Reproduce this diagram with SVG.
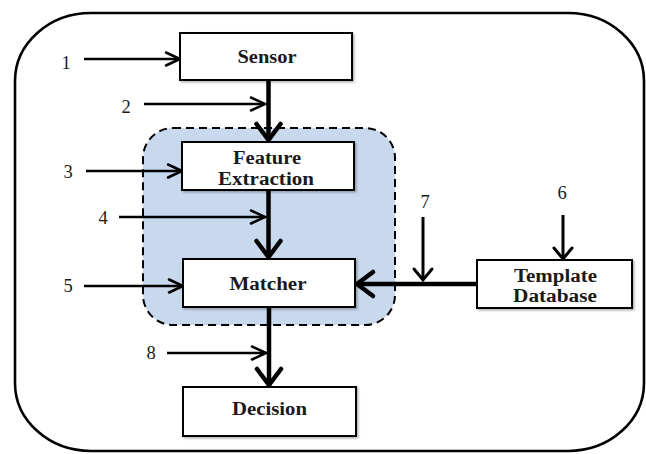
<svg xmlns="http://www.w3.org/2000/svg" width="646" height="454" viewBox="0 0 646 454">
  <style>
    .box { fill: #ffffff; stroke: #000000; stroke-width: 2; filter: url(#shadow); }
    .lbl { font-family: "Liberation Serif", "Times New Roman", serif; font-weight: bold; font-size: 18px; fill: #1a1a1a; text-anchor: middle; }
    .num { font-family: "Liberation Serif", "Times New Roman", serif; font-size: 18.5px; fill: #1a1a1a; text-anchor: middle; }
    .thin { stroke: #000000; stroke-width: 2.6; fill: none; marker-end: url(#headThin); }
    .thick { stroke: #000000; stroke-width: 4.5; fill: none; marker-end: url(#headThick); }
    .mid { stroke: #000000; stroke-width: 3; fill: none; marker-end: url(#headMid); }
  </style>
  <defs>
    <filter id="shadow" x="-10%" y="-10%" width="130%" height="140%">
      <feDropShadow dx="1.5" dy="1.5" stdDeviation="1.2" flood-color="#000000" flood-opacity="0.3"/>
    </filter>
    <marker id="headThin" markerUnits="userSpaceOnUse" markerWidth="30" markerHeight="30" orient="auto" refX="0" refY="0" viewBox="-20 -15 30 30" overflow="visible">
      <path d="M -14 -6.5 L 0 0 L -14 6.5" fill="none" stroke="#000" stroke-width="2.6" stroke-linejoin="miter" stroke-linecap="round"/>
    </marker>
    <marker id="headMid" markerUnits="userSpaceOnUse" markerWidth="30" markerHeight="30" orient="auto" refX="0" refY="0" viewBox="-20 -15 30 30" overflow="visible">
      <path d="M -11 -9 L 0 0 L -11 9" fill="none" stroke="#000" stroke-width="3" stroke-linejoin="miter" stroke-linecap="round"/>
    </marker>
    <marker id="headThick" markerUnits="userSpaceOnUse" markerWidth="40" markerHeight="40" orient="auto" refX="0" refY="0" viewBox="-25 -20 40 40" overflow="visible">
      <path d="M -17 -12 L -1 0 L -17 12" fill="none" stroke="#000" stroke-width="4.5" stroke-linejoin="miter" stroke-linecap="round"/>
    </marker>
  </defs>

  <rect width="646" height="454" fill="#ffffff"/>

  <!-- outer system boundary -->
  <rect id="system" x="15" y="13" width="629" height="438" rx="76" ry="68" fill="none" stroke="#000" stroke-width="2.6"/>

  <!-- dashed processing region -->
  <rect id="region" x="143" y="128" width="252" height="197" rx="30" ry="30" fill="#c8d9ee" stroke="#000" stroke-width="2" stroke-dasharray="8 5"/>

  <!-- connectors -->
  <g id="connectors">
    <line class="thick" x1="268.5" y1="80" x2="268.5" y2="141"/>
    <line class="thick" x1="268.5" y1="190" x2="268.5" y2="258"/>
    <line class="thick" x1="477" y1="284" x2="356" y2="284"/>
    <line class="thick" x1="269" y1="307" x2="269" y2="386"/>

    <line class="thin" x1="84" y1="59" x2="180" y2="59"/>
    <line class="thin" x1="144" y1="104" x2="265" y2="104"/>
    <line class="thin" x1="86" y1="171" x2="182" y2="171"/>
    <line class="thin" x1="119" y1="217" x2="265" y2="217"/>
    <line class="thin" x1="84" y1="286" x2="183" y2="286"/>
    <line class="thin" x1="167" y1="353" x2="266" y2="353"/>
    <line class="mid" x1="423" y1="217" x2="423" y2="280"/>
    <line class="mid" x1="563" y1="215" x2="563" y2="259"/>
  </g>

  <!-- input point labels -->
  <g id="labels">
    <text class="num" x="66" y="69">1</text>
    <text class="num" x="126" y="113">2</text>
    <text class="num" x="68" y="178">3</text>
    <text class="num" x="103" y="224">4</text>
    <text class="num" x="68" y="292">5</text>
    <text class="num" x="562" y="199">6</text>
    <text class="num" x="425" y="208">7</text>
    <text class="num" x="151" y="359">8</text>
  </g>

  <g id="sensor">
    <rect class="box" x="180" y="33" width="172" height="47"/>
    <text class="lbl" x="267" y="63" textLength="59" lengthAdjust="spacingAndGlyphs">Sensor</text>
  </g>

  <g id="feature-extraction">
    <rect class="box" x="182" y="142" width="172" height="48"/>
    <text class="lbl" x="267" y="164" textLength="68" lengthAdjust="spacingAndGlyphs">Feature</text>
    <text class="lbl" x="266" y="184.5" textLength="96" lengthAdjust="spacingAndGlyphs">Extraction</text>
  </g>

  <g id="matcher">
    <rect class="box" x="183" y="259" width="172" height="48"/>
    <text class="lbl" x="268" y="290" textLength="77" lengthAdjust="spacingAndGlyphs">Matcher</text>
  </g>

  <g id="template-database">
    <rect class="box" x="477" y="260" width="155" height="48"/>
    <text class="lbl" x="555.5" y="282" textLength="83" lengthAdjust="spacingAndGlyphs">Template</text>
    <text class="lbl" x="555" y="302" textLength="84" lengthAdjust="spacingAndGlyphs">Database</text>
  </g>

  <g id="decision">
    <rect class="box" x="183" y="387" width="173" height="49"/>
    <text class="lbl" x="269.5" y="415" textLength="75" lengthAdjust="spacingAndGlyphs">Decision</text>
  </g>
</svg>
